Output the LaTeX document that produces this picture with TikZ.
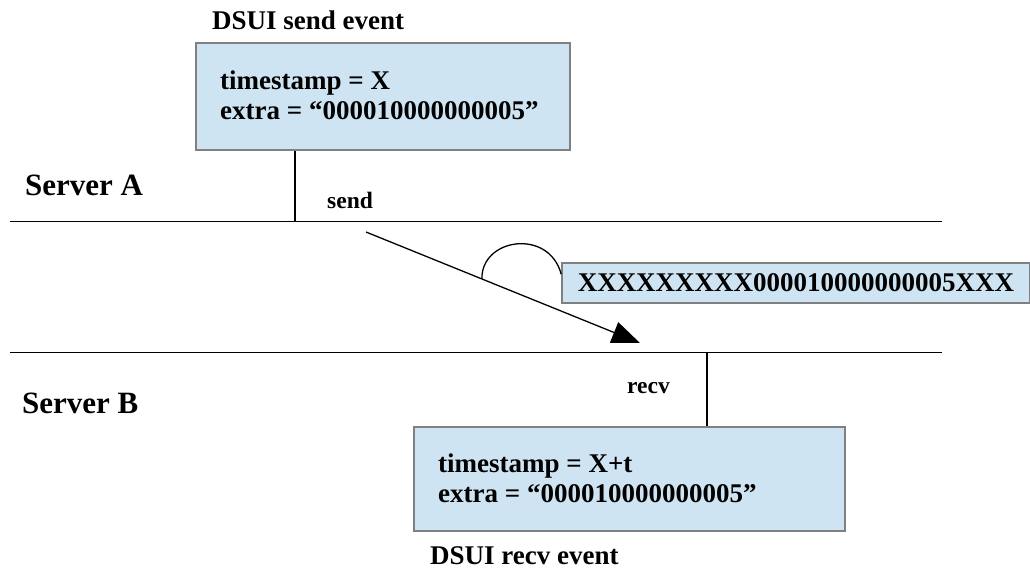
\documentclass[tikz,border=0pt]{standalone}
\usepackage{fontspec}
\setmainfont{Liberation Serif}
\usetikzlibrary{arrows.meta,calc}
\definecolor{evfill}{RGB}{206,228,242}
\definecolor{evline}{RGB}{128,128,128}
\begin{document}
\begin{tikzpicture}[x=1pt,y=-1pt,
  evbox/.style={draw=evline,line width=1.6pt,fill=evfill,rectangle,inner sep=0pt,
    font=\fontsize{27}{30}\selectfont\bfseries},
  caption/.style={anchor=base west,inner sep=0pt,font=\fontsize{27}{30}\selectfont\bfseries},
  server/.style={anchor=base west,inner sep=0pt,font=\fontsize{31}{34}\selectfont\bfseries},
  tag/.style={anchor=base west,inner sep=0pt,font=\fontsize{23.5}{28}\selectfont\bfseries},
  wire/.style={line width=1.3pt,black},
  boxtext/.style={anchor=west,inner sep=0pt,align=left,
    font=\fontsize{27}{30}\selectfont\bfseries}]
\useasboundingbox (0,0) rectangle (1030,571);

% timelines of the two servers
\coordinate (a0) at (10,221.5);
\coordinate (a1) at (942,221.5);
\coordinate (b0) at (10,352.5);
\coordinate (b1) at (942,352.5);
\draw[wire] (a0) -- (a1);
\draw[wire] (b0) -- (b1);
\node[server] (srvA) at (25,195) {Server A};
\node[server] (srvB) at (22,413) {Server B};

% send event on server A
\node[evbox,minimum width=374,minimum height=107] (evA) at (383,96.5) {};
\node[boxtext] (evAtxt) at (220,95) {timestamp = X\\extra = “000010000000005”};
\node[caption] (capA) at (212,29) {DSUI send event};
\coordinate (sendpt) at (295,221.5);
\draw[wire] (evA.south -| sendpt) -- (sendpt);
\node[tag] (sendlbl) at (327,208) {send};

% receive event on server B
\node[evbox,minimum width=431,minimum height=104] (evB) at (629.5,479) {};
\node[boxtext] (evBtxt) at (438,478) {timestamp = X+t\\extra = “000010000000005”};
\node[caption] (capB) at (430,564) {DSUI recv event};
\coordinate (recvpt) at (707,352.5);
\draw[wire] (recvpt) -- (evB.north -| recvpt);
\node[tag] (recvlbl) at (627,393) {recv};

% message on the wire
\coordinate (msgS) at (366,232);
\coordinate (msgR) at (640,343);
\draw[wire,-{Triangle[length=28pt,width=22pt]}] (msgS) -- (msgR);
\node[evbox,minimum width=468,minimum height=40] (pkt) at (796,283) {XXXXXXXXX000010000000005XXX};
\coordinate (hook) at ($(msgS)!0.423!(msgR)$);
\draw[wire] (hook) .. controls (481,238) and (549,228) .. ([yshift=-12pt]pkt.north west);
\end{tikzpicture}
\end{document}
